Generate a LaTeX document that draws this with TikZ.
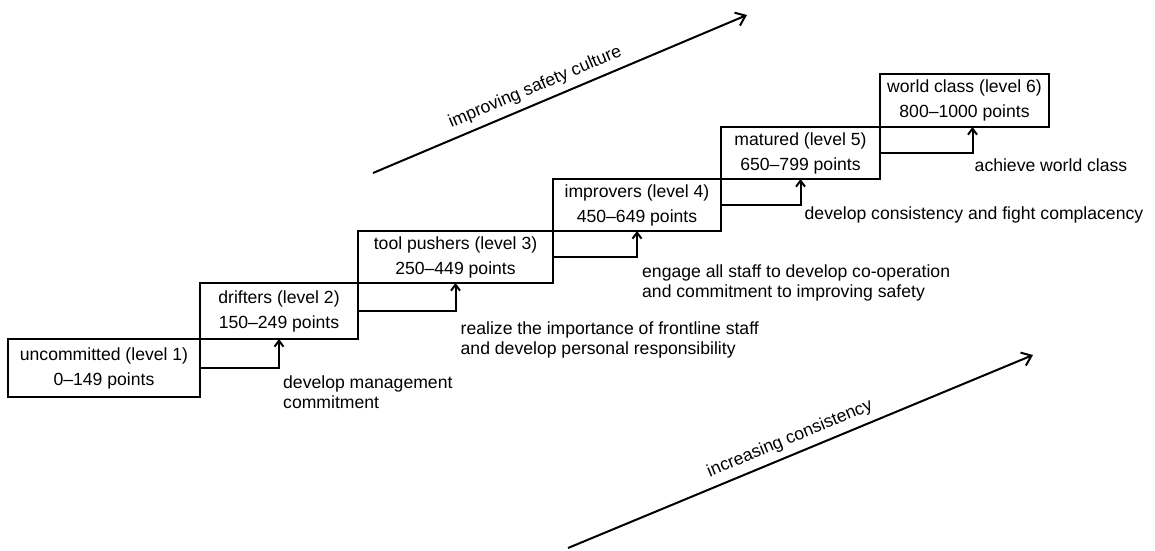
\documentclass[tikz,border=0pt]{standalone}
\usepackage{fontspec}
\setmainfont{Liberation Sans}
\usetikzlibrary{arrows.meta,positioning}
\usetikzlibrary{calc}

\begin{document}
\begin{tikzpicture}[
    x=1pt, y=1pt,
    font=\fontsize{17.6}{20}\selectfont,
    level/.style={draw,line width=2pt,outer sep=0pt,inner sep=2pt,align=center,
        font=\fontsize{17.6}{25}\selectfont},
    climb/.style={-{Straight Barb[length=6pt,width=9pt]},line width=2pt},
    advice/.style={align=left,inner sep=0pt},
    trend/.style={-{Straight Barb[length=9pt,width=14pt]},line width=2pt},
]

\useasboundingbox (0,0) rectangle (1155,-550);

%----------------------------------
% Levels
%----------------------------------

\node[level,minimum width=192pt,minimum height=58pt,anchor=south west] (b1) at (8,-397)
    {uncommitted (level 1)\\0--149 points};
\node[level,minimum width=158pt,minimum height=56pt,above right=0pt and 0pt of b1] (b2)
    {drifters (level 2)\\150--249 points};
\node[level,minimum width=195pt,minimum height=52pt,above right=0pt and 0pt of b2] (b3)
    {tool pushers (level 3)\\250--449 points};
\node[level,minimum width=168pt,minimum height=52pt,above right=0pt and 0pt of b3] (b4)
    {improvers (level 4)\\450--649 points};
\node[level,minimum width=159pt,minimum height=52pt,above right=0pt and 0pt of b4] (b5)
    {matured (level 5)\\650--799 points};
\node[level,minimum width=169pt,minimum height=53pt,above right=0pt and 0pt of b5] (b6)
    {world class (level 6)\\800--1000 points};

%----------------------------------
% Steps up
%----------------------------------

\coordinate (c1) at (b1.east -| b2.south);
\coordinate (c2) at (b2.east -| b3.south);
\coordinate (c3) at (b3.east -| b4.south);
\coordinate (c4) at (b4.east -| b5.south);
\coordinate (c5) at ($(b5.east -| b6.south)+(8,0)$);

\draw[climb] (b1.east) -- (c1) -- (b2.south);
\draw[climb] (b2.east) -- (c2) -- (b3.south);
\draw[climb] (b3.east) -- (c3) -- (b4.south);
\draw[climb] (b4.east) -- (c4) -- (b5.south);
\draw[climb] (b5.east) -- (c5) -- (c5 |- b6.south);

\node[advice,below right=8pt and 4pt of c1] (a1) {develop management\\commitment};
\node[advice,below right=11pt and 5pt of c2] (a2)
    {realize the importance of frontline staff\\and develop personal responsibility};
\node[advice,below right=8pt and 5pt of c3] (a3)
    {engage all staff to develop co-operation\\and commitment to improving safety};
\node[advice,below right=2pt and 4pt of c4] (a4) {develop consistency and fight complacency};
\node[advice,below right=6pt and 2pt of c5] (a5) {achieve world class};

%----------------------------------
% Trends
%----------------------------------

\coordinate (culture start) at (373,-173);
\coordinate (culture end) at (747,-15);
\coordinate (consistency start) at (568,-548);
\coordinate (consistency end) at (1033,-355);

\draw[trend] (culture start) -- node[pos=0.45,sloped,above=3pt] (culture) {improving safety culture} (culture end);
\draw[trend] (consistency start) -- node[pos=0.49,sloped,above=3pt] (consistency) {increasing consistency} (consistency end);

\end{tikzpicture}
\end{document}
